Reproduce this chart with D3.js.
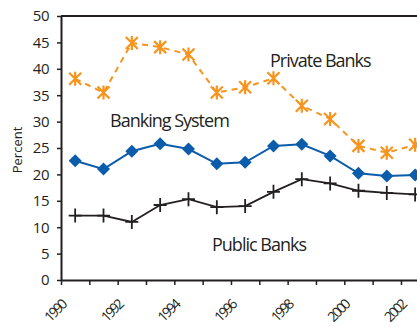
<!DOCTYPE html>
<html>
<head>
<meta charset="utf-8">
<script src="https://cdn.jsdelivr.net/npm/d3@7"></script>
<style>
  html, body { margin: 0; padding: 0; background: #fff; overflow: hidden; }
  svg { display: block; font-family: "Open Sans", "Noto Sans", sans-serif; }
</style>
</head>
<body>
<svg id="chart" width="417" height="327"></svg>
<script>
// Share of deposits (percent) by bank group, 1990-2002
const years = [1990, 1991, 1992, 1993, 1994, 1995, 1996, 1997, 1998, 1999, 2000, 2001, 2002];
const privateBanks = [38.1, 35.5, 44.9, 44.1, 42.7, 35.5, 36.5, 38.2, 33.0, 30.5, 25.4, 24.1, 25.6];
const bankingSystem = [22.6, 21.0, 24.4, 25.8, 24.8, 22.0, 22.3, 25.4, 25.7, 23.5, 20.2, 19.7, 19.9];
const publicBanks = [12.2, 12.2, 11.0, 14.2, 15.3, 13.8, 14.0, 16.7, 19.1, 18.3, 16.9, 16.5, 16.2];
const yTicks = [0, 5, 10, 15, 20, 25, 30, 35, 40, 45, 50];
const xLabels = [1990, 1992, 1994, 1996, 1998, 2000, 2002];

const svg = d3.select("#chart");
const plotLeft = 61, plotTop = 16, plotBottom = 280;
const bandW = 28.33;

// Category axis: each year occupies one band; ticks sit on band edges
const x = d3.scaleLinear().domain([1990, 2003]).range([plotLeft, plotLeft + 13 * bandW]);
const y = d3.scaleLinear().domain([0, 50]).range([plotBottom, plotTop]);
const cx = yr => x(yr + 0.5);

const axisColor = "#231f20";

// Top frame line
svg.append("line")
  .attr("x1", plotLeft).attr("x2", x(2003))
  .attr("y1", y(50)).attr("y2", y(50))
  .attr("stroke", axisColor).attr("stroke-width", 2);

// Y axis
const yAxis = svg.append("g")
  .attr("transform", `translate(${plotLeft},0)`)
  .call(d3.axisLeft(y).tickValues(yTicks).tickSize(4).tickPadding(8).tickSizeOuter(0));
yAxis.select(".domain").attr("stroke", axisColor).attr("stroke-width", 2);
yAxis.selectAll(".tick line").attr("stroke", axisColor).attr("stroke-width", 1.5);
yAxis.selectAll(".tick text")
  .attr("font-size", 15).attr("fill", axisColor)
  .attr("font-family", "\"Open Sans\", sans-serif")
  .attr("letter-spacing", -0.5);

// X axis with ticks at band edges
const xAxis = svg.append("g")
  .attr("transform", `translate(0,${plotBottom})`)
  .call(d3.axisBottom(x).tickValues(d3.range(1990, 2004)).tickSize(5).tickFormat("").tickSizeOuter(0));
xAxis.select(".domain").attr("stroke", axisColor).attr("stroke-width", 2);
xAxis.selectAll(".tick line").attr("stroke", axisColor).attr("stroke-width", 1.5);

// Rotated year labels
svg.append("g").selectAll("text")
  .data(xLabels)
  .join("text")
  .attr("transform", d => `translate(${x(d) + 6},${plotBottom + 26}) rotate(-45)`)
  .attr("text-anchor", "end")
  .attr("font-size", 14)
  .attr("letter-spacing", -2.1)
  .attr("fill", axisColor)
  .text(d => d);

// Y axis title
svg.append("text")
  .attr("transform", `translate(22,${(plotTop + plotBottom) / 2 + 2}) rotate(-90)`)
  .attr("text-anchor", "middle")
  .attr("font-size", 13)
  .attr("fill", axisColor)
  .text("Percent");

const line = d3.line().x((d, i) => cx(years[i])).y(d => y(d));

// Private banks: dashed orange line with star markers
const orange = "#f7941d";
svg.append("path")
  .datum(privateBanks)
  .attr("d", line)
  .attr("fill", "none")
  .attr("stroke", orange)
  .attr("stroke-width", 2)
  .attr("stroke-dasharray", "6,5");
const star = "M-6,-6L6,6M-6,6L6,-6M0,-7L0,7";
svg.append("g").selectAll("path")
  .data(privateBanks)
  .join("path")
  .attr("transform", (d, i) => `translate(${cx(years[i])},${y(d)})`)
  .attr("d", star)
  .attr("stroke", orange)
  .attr("stroke-width", 2.2)
  .attr("fill", "none");

// Banking system: blue line with diamonds
const blue = "#0b5cab";
svg.append("path")
  .datum(bankingSystem)
  .attr("d", line)
  .attr("fill", "none")
  .attr("stroke", blue)
  .attr("stroke-width", 2);
svg.append("g").selectAll("path")
  .data(bankingSystem)
  .join("path")
  .attr("transform", (d, i) => `translate(${cx(years[i])},${y(d)})`)
  .attr("d", "M0,-6.5L6.5,0L0,6.5L-6.5,0Z")
  .attr("fill", blue);

// Public banks: black line with plus markers
const black = "#231f20";
svg.append("path")
  .datum(publicBanks)
  .attr("d", line)
  .attr("fill", "none")
  .attr("stroke", black)
  .attr("stroke-width", 1.8);
svg.append("g").selectAll("path")
  .data(publicBanks)
  .join("path")
  .attr("transform", (d, i) => `translate(${cx(years[i])},${y(d)})`)
  .attr("d", "M-6.5,0L6.5,0M0,-7L0,7")
  .attr("stroke", black)
  .attr("stroke-width", 1.8)
  .attr("fill", "none");

// Series labels
const labels = [
  { text: "Private Banks", x: 270, y: 67 },
  { text: "Banking System", x: 110, y: 127 },
  { text: "Public Banks", x: 212, y: 251 }
];
svg.append("g").selectAll("text")
  .data(labels)
  .join("text")
  .attr("x", d => d.x).attr("y", d => d.y)
  .attr("font-size", 18)
  .attr("letter-spacing", -1)
  .attr("fill", axisColor)
  .text(d => d.text);
</script>
</body>
</html>
